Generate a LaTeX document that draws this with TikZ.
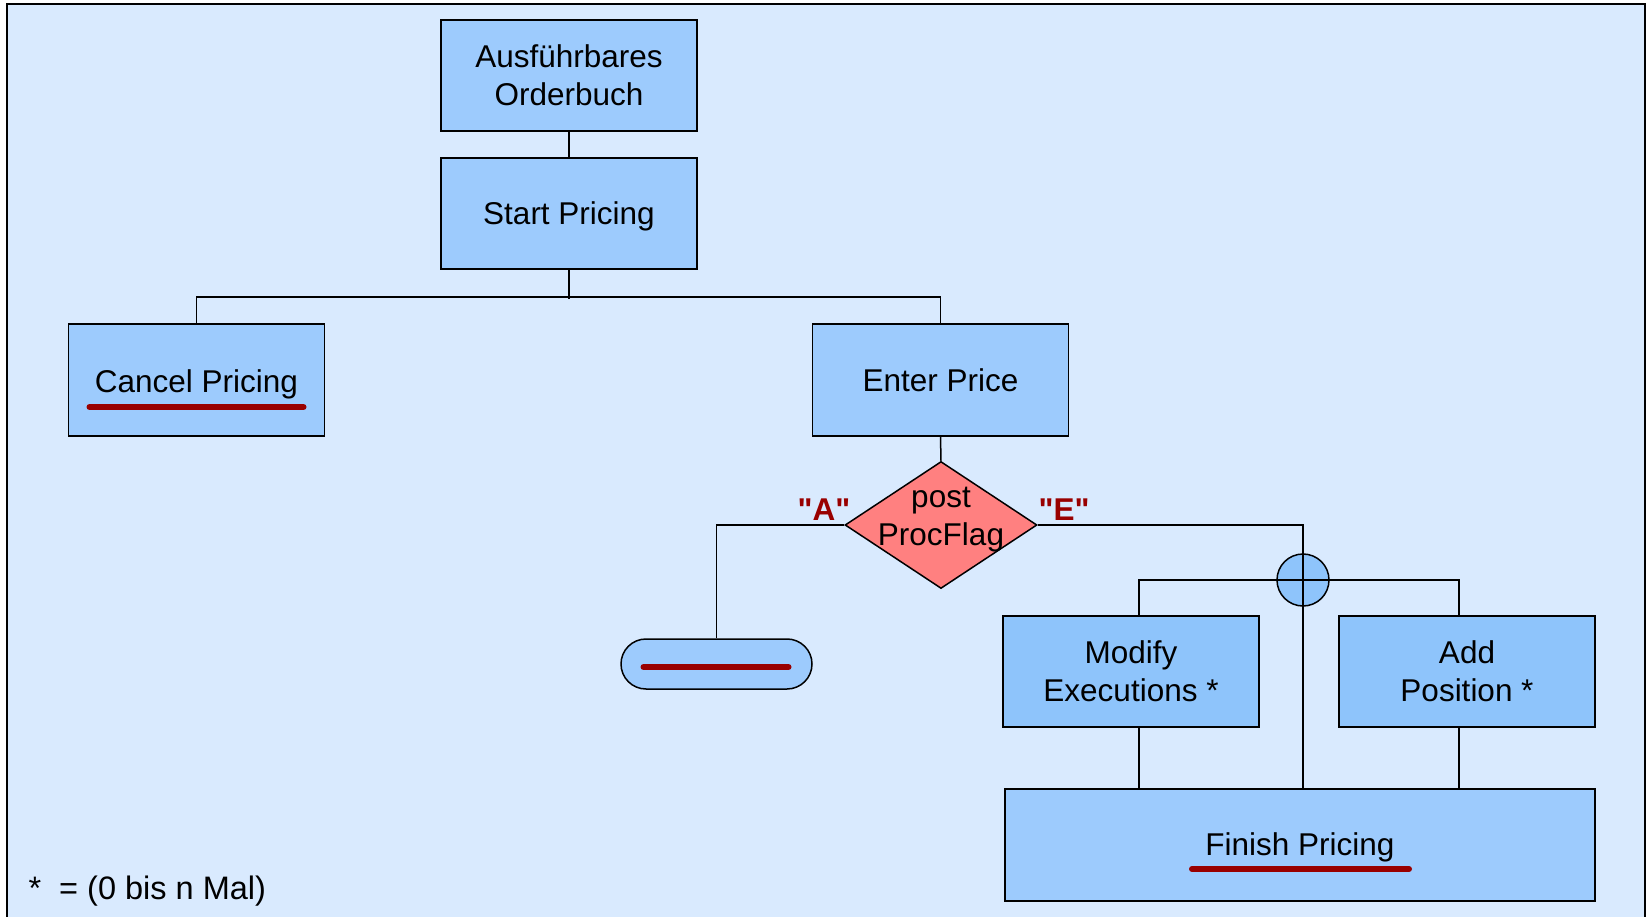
\documentclass[tikz,border=0pt]{standalone}
\usepackage{fontspec}
\setmainfont{Liberation Sans}[Ligatures=TeXOff]
\usetikzlibrary{shapes.geometric,shapes.misc,calc}
\definecolor{bgblue}{HTML}{D9EAFE}
\definecolor{boxblue}{HTML}{9DCBFD}
\definecolor{boxblue2}{HTML}{8EC4FB}
\definecolor{diared}{HTML}{FF8080}
\definecolor{darkred}{HTML}{990000}
\begin{document}
\begin{tikzpicture}[x=1pt,y=-1pt,
  every node/.style={font=\fontsize{31.5}{38}\selectfont},
  box/.style={draw=black,line width=1.5pt,fill=boxblue,rectangle,minimum width=256pt,minimum height=111pt,align=center,inner sep=0pt,text depth=0pt},
  conn/.style={draw=black,line width=1.5pt},
  redbar/.style={draw=darkred,line width=6pt,line cap=round},
  flaglabel/.style={text=darkred,font=\fontsize{31.5}{38}\selectfont\bfseries}]
\useasboundingbox (0,0) rectangle (1650,917);
\fill[white] (0,0) rectangle (1650,917);
\fill[bgblue] (7,4) rectangle (1645,917);
\draw[line width=2pt] (7,917) -- (7,4) -- (1645,4) -- (1645,917);

\node[box] (aus) at (569,75.5) {Ausführbares\\Orderbuch};
\node[box] (start) at (569,213.5) {Start Pricing};
\node[box,minimum height=112pt] (cancel) at (196.5,380) {};
\node[text depth=0pt] (canceltext) at (196.5,381) {Cancel Pricing};
\node[box,minimum height=112pt] (enter) at (940.5,380) {Enter Price};
\node[diamond,draw=black,line width=1.5pt,fill=diared,minimum width=192pt,minimum height=127pt,inner sep=0pt] (dia) at (941,525) {};
\node[align=center] (diatext) at (941,520) {post\\ProcFlag};
\node[flaglabel] (flagA) at (824,510) {"A"};
\node[flaglabel] (flagE) at (1064,510) {"E"};
\node[rounded rectangle,draw=black,line width=1.5pt,fill=boxblue,minimum width=191pt,minimum height=50pt,inner sep=0pt] (pill) at (716.5,664) {};
\node[circle,draw=black,line width=1.5pt,fill=boxblue2,minimum size=52pt,inner sep=0pt] (circ) at (1303,580) {};
\node[box,fill=boxblue2] (mod) at (1131,671.5) {Modify\\Executions *};
\node[box,fill=boxblue2] (add) at (1467,671.5) {Add\\Position *};
\node[box,minimum width=590pt,minimum height=112pt] (fin) at (1300,845) {};
\node[text depth=0pt] (fintext) at (1300,844) {Finish Pricing};
\node[anchor=west,font=\fontsize{32.5}{38}\selectfont] (foot) at (25,891) {*\ \ = (0 bis n Mal)};

% connectors
\draw[conn] (aus.south) -- (start.north);
\draw[conn] (start.south) -- ++(0,29);
\draw[conn] (cancel.north) -- ++(0,-26) -| (enter.north);
\draw[conn] (enter.south) -- (dia.north);
\draw[conn] (dia.west) -| (pill.north);
\draw[conn] (dia.east) -| (circ.north);
\draw[conn] ([xshift=8pt]mod.north) |- (circ.west);
\draw[conn] (circ.east) -| ([xshift=-8pt]add.north);
\draw[conn] (circ.north) -- (circ.south);
\draw[conn] (circ.west) -- (circ.east);
\draw[conn] (circ.south) -- (circ.south |- fin.north);
\draw[conn] ([xshift=8pt]mod.south) -- ([xshift=8pt]mod.south |- fin.north);
\draw[conn] ([xshift=-8pt]add.south) -- ([xshift=-8pt]add.south |- fin.north);

% red bars
\draw[redbar] ([xshift=-107pt,yshift=-27pt]cancel.center) -- ([xshift=107pt,yshift=-27pt]cancel.center);
\draw[redbar] ([xshift=-108pt,yshift=-24pt]fin.center) -- ([xshift=109pt,yshift=-24pt]fin.center);
\draw[redbar] ([xshift=-73pt,yshift=-3pt]pill.center) -- ([xshift=72pt,yshift=-3pt]pill.center);
\end{tikzpicture}
\end{document}
